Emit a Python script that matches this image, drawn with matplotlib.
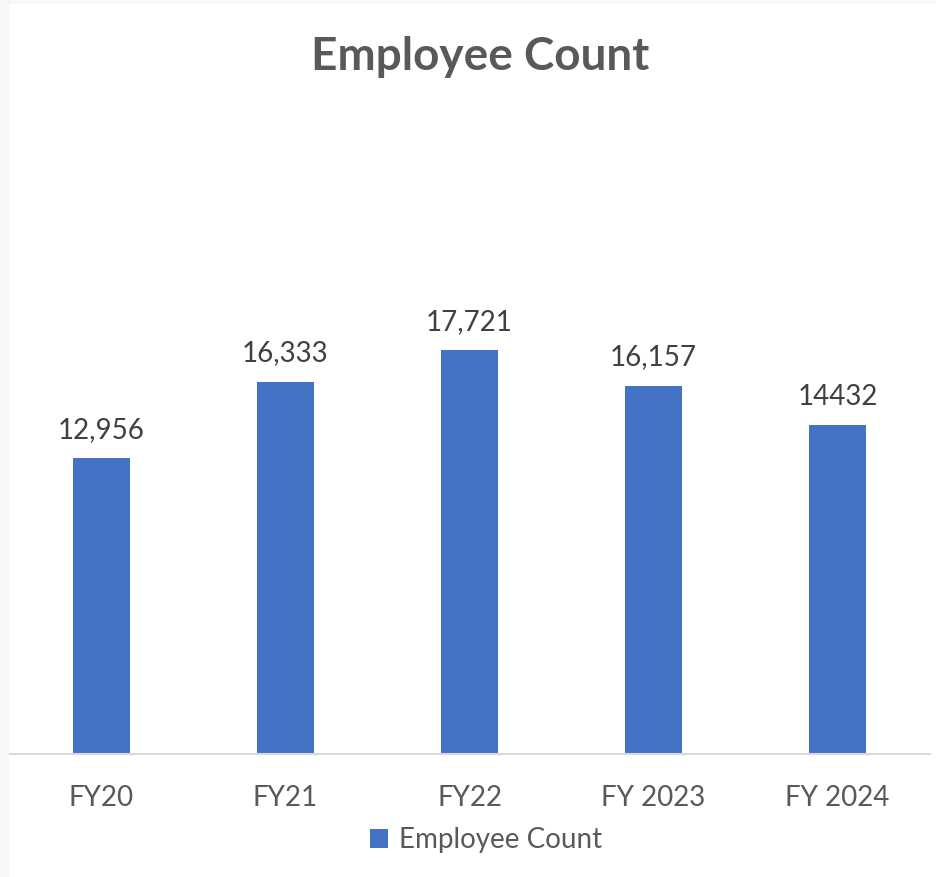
import matplotlib.pyplot as plt
from matplotlib.patches import Rectangle

categories = ['FY20', 'FY21', 'FY22', 'FY 2023', 'FY 2024']
employees = [12956, 16333, 17721, 16157, 14432]
value_labels = ['12,956', '16,333', '17,721', '16,157', '14432']

plt.rcParams['font.family'] = ['Lato', 'DejaVu Sans']

W, H = 936, 877
fig = plt.figure(figsize=(W / 100, H / 100), dpi=100, facecolor='#F6F7F9')

# white chart area
fig.patches.append(Rectangle((9 / W, 0), 1 - 9 / W, 1 - 4 / H,
                             transform=fig.transFigure, facecolor='white',
                             edgecolor='none', zorder=-10))

ax = fig.add_axes([9.5 / W, 123.5 / H, 920 / W, 455.4 / H])
ax.set_facecolor('none')

x = range(len(categories))
bars = ax.bar(x, employees, width=0.31, color='#4472C4', label='Employee Count')

for xi, v, lbl in zip(x, employees, value_labels):
    ax.annotate(lbl, (xi, v), xytext=(0, 11), textcoords='offset points',
                ha='center', va='bottom', fontsize=20, color='#404040')

ax.set_xlim(-0.5, len(categories) - 0.5)
ax.set_ylim(0, 20000)
ax.set_xticks(list(x))
ax.set_xticklabels(categories, fontsize=20, color='#595959')
ax.tick_params(axis='x', length=0, pad=23)
ax.set_yticks([])
for side in ['top', 'left', 'right']:
    ax.spines[side].set_visible(False)
ax.spines['bottom'].set_color('#D9D9D9')
ax.spines['bottom'].set_linewidth(1.5)

fig.text(480 / W, 1 - 57 / H, 'Employee Count', ha='center', va='center',
         fontsize=33, fontweight='bold', color='#595959')

leg = fig.legend(loc='center', bbox_to_anchor=(486 / W, 1 - 840 / H),
                 frameon=False, fontsize=20, handlelength=0.65,
                 handleheight=0.65, handletextpad=0.4)
for t in leg.get_texts():
    t.set_color('#595959')

fig.savefig('out.png', dpi=100, facecolor=fig.get_facecolor())
